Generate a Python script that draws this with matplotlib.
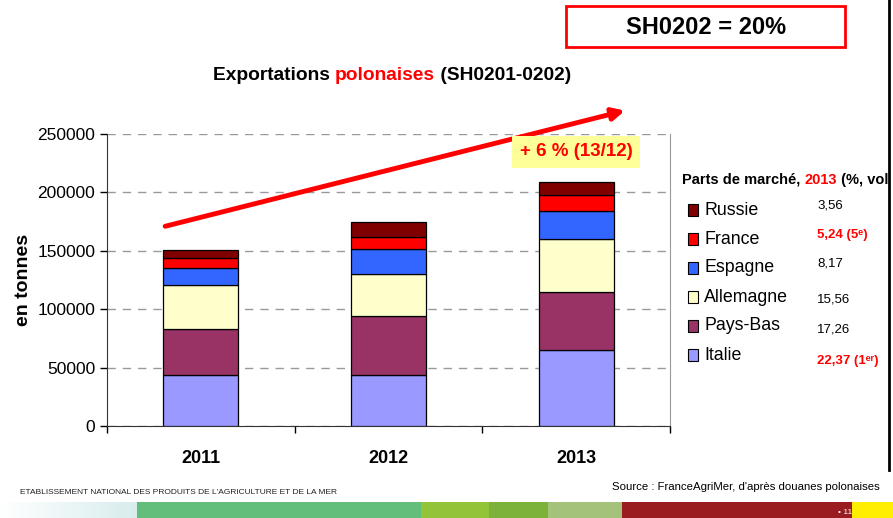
import numpy as np
import matplotlib
matplotlib.use("Agg")
import matplotlib.pyplot as plt
from matplotlib.patches import Rectangle

plt.rcParams['font.family'] = ['Liberation Sans', 'DejaVu Sans']

# data (tonnes)
years = ["2011", "2012", "2013"]
pays = ["Italie", "Pays-Bas", "Allemagne", "Espagne", "France", "Russie"]
italie = [43700, 43700, 64800]
pays_bas = [39300, 50700, 49700]
allemagne = [37400, 35500, 45900]
espagne = [15100, 21900, 23900]
france = [8100, 10200, 13900]
russie = [7400, 13000, 10600]
parts = ["22,37 (1ᵉʳ)", "17,26", "15,56", "8,17", "5,24 (5ᵉ)", "3,56"]
parts_hl = [True, False, False, False, True, False]
couleurs = ["#9999ff", "#993366", "#ffffcc", "#3366ff", "#ff0000", "#800000"]

series = [italie, pays_bas, allemagne, espagne, france, russie]

W, H = 893, 518
fig = plt.figure(figsize=(W / 100, H / 100), dpi=100)
ax = fig.add_axes([107 / W, (H - 426) / H, 563 / W, 292 / H])

x = np.arange(len(years))
bottom = np.zeros(len(years))
for vals, c, name in zip(series, couleurs, pays):
    ax.bar(x, vals, 0.40, bottom=bottom, color=c, edgecolor="black",
           linewidth=0.9, label=name, zorder=3)
    bottom += np.array(vals)

ax.set_xlim(-0.5, 2.5)
ax.set_ylim(0, 250000)
ax.set_yticks(np.arange(0, 250001, 50000))
ax.tick_params(axis="y", labelsize=12.5, length=5, width=1, direction="out")
ax.set_xticks([-0.5, 0.5, 1.5, 2.5])
ax.set_xticklabels([])
ax.tick_params(axis="x", length=5, width=1, direction="out")
for xi, yr in zip(x, years):
    ax.text(xi, -28000, yr, ha="center", va="center", fontsize=13,
            fontweight="bold", clip_on=False)
ax.yaxis.grid(True, linestyle=(0, (6, 5)), color="#999999", linewidth=1, zorder=0)
ax.spines["top"].set_visible(False)
ax.spines["right"].set_color("#999999")
ax.spines["left"].set_color("#333333")
ax.spines["bottom"].set_color("#333333")
ax.set_ylabel("en tonnes", fontsize=14, fontweight="bold", labelpad=4)

# trend arrow
ax.annotate("", xy=(2.26, 270000), xytext=(-0.19, 171000),
            arrowprops=dict(arrowstyle="-|>", color="#ff0000", lw=3.5,
                            mutation_scale=18, shrinkA=0, shrinkB=0),
            annotation_clip=False, zorder=5)
ax.text(2.0, 235000, "+ 6 % (13/12)", color="#ff0000", fontsize=13.5,
        fontweight="bold", ha="center", va="center", zorder=6,
        bbox=dict(boxstyle="square,pad=0.4", fc="#ffff99", ec="none"))

# title with mixed colours
fig.canvas.draw()
r = fig.canvas.get_renderer()
parts_t = [("Exportations ", "black"), ("polonaises", "#ff0000"), (" (SH0201-0202)", "black")]
objs = []
for s, c in parts_t:
    objs.append(fig.text(0, 1 - 76 / H, s, color=c, fontsize=13.8,
                         fontweight="bold", va="center"))
widths = [o.get_window_extent(r).width for o in objs]
x0 = 392 - sum(widths) / 2
for o, w in zip(objs, widths):
    o.set_x(x0 / W)
    x0 += w

# SH0202 box
fig.add_artist(Rectangle((566 / W, 1 - 47 / H), 279 / W, 41 / H,
                         transform=fig.transFigure, fill=False,
                         ec="#ff0000", lw=2))
fig.text(706 / W, 1 - 28 / H, "SH0202 = 20%", fontsize=17, fontweight="bold",
         ha="center", va="center")

# legend block
hdr = [("Parts de marché, ", "black"), ("2013", "#ff0000"), (" (%, vol)", "black")]
hx = 682
for s, c in hdr:
    t = fig.text(hx / W, 1 - 180 / H, s, color=c, fontsize=10.5,
                 fontweight="bold", va="center")
    hx += t.get_window_extent(r).width
for i, name in enumerate(reversed(pays)):
    k = len(pays) - 1 - i
    yc = 210 + 29 * i
    fig.add_artist(Rectangle((688 / W, 1 - (yc + 6) / H), 10 / W, 12 / H,
                             transform=fig.transFigure, fc=couleurs[k],
                             ec="black", lw=0.8))
    fig.text(704 / W, 1 - yc / H, name, fontsize=12.8, va="center")
    yv = yc - 4 + (2 * i if i >= 3 else 0)
    if parts_hl[k]:
        fig.text(817 / W, 1 - yv / H, parts[k], fontsize=9.5, va="center",
                 color="#ff0000", fontweight="bold")
    else:
        fig.text(817 / W, 1 - yv / H, parts[k], fontsize=9.5, va="center")

# right edge: white cover then black line
fig.add_artist(Rectangle((889 / W, 16 / H), 4 / W, 1 - 16 / H,
                         transform=fig.transFigure, fc="white", ec="none", zorder=9))
fig.add_artist(plt.Line2D([889 / W, 889 / W], [1 - 470 / H, 1], color="black",
                          lw=2, transform=fig.transFigure, zorder=10))

# footer
fig.text(20 / W, 1 - 492 / H,
         "ETABLISSEMENT NATIONAL DES PRODUITS DE L'AGRICULTURE ET DE LA MER",
         fontsize=6.0, va="center", color="#222222")
fig.text(880 / W, 1 - 487 / H, "Source : FranceAgriMer, d'après douanes polonaises",
         fontsize=8.2, ha="right", va="center")

grad = np.linspace(0, 1, 100).reshape(1, -1)
gax = fig.add_axes([0, 0, 137 / W, 16 / H])
gax.imshow(grad, aspect="auto", cmap=matplotlib.colors.LinearSegmentedColormap.from_list(
    "g", ["#ffffff", "#d8ecee"]))
gax.axis("off")
segs = [(137, 421, "#62be7a"), (421, 489, "#92c43a"), (489, 548, "#7cb23a"),
        (548, 622, "#a5c27a"), (622, 852, "#9a1b20"), (852, 893, "#ffee00")]
for a, b, c in segs:
    fig.add_artist(Rectangle((a / W, 0), (b - a) / W, 16 / H,
                             transform=fig.transFigure, fc=c, ec="none"))
fig.text(838 / W, 6 / H, "• 11", fontsize=6, color="white", va="center")

fig.savefig("out.png", dpi=100)
